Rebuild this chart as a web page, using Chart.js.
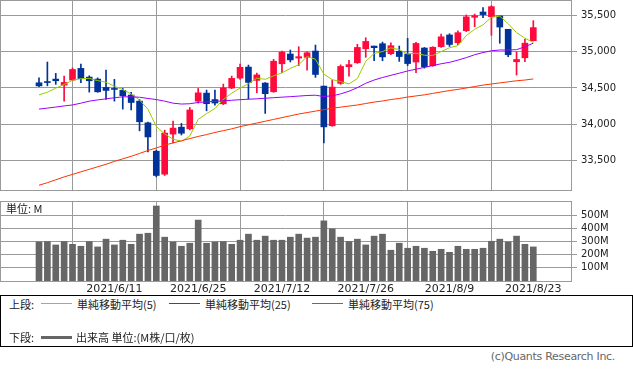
<!DOCTYPE html>
<html>
<head>
<meta charset="utf-8">
<script src="https://cdn.jsdelivr.net/npm/chart.js@4"></script>
<style>
  html, body { margin: 0; padding: 0; background: #fff; }
  #wrap { position: relative; width: 633px; height: 371px; overflow: hidden;
          font-family: "Noto Sans CJK JP", "DejaVu Sans", sans-serif; color: #222; }
  #c1 { position: absolute; left: 0; top: 0; }
  #c2 { position: absolute; left: 0; top: 196px; }
  .unit { position: absolute; left: 6px; top: 202px; font-size: 11px; line-height: 13px; }
  #legend { position: absolute; left: 0; top: 295px; width: 631px; height: 50px; border: 1px solid #000; }
  .lt { position: absolute; font-size: 11px; line-height: 13px; white-space: nowrap; }
  .ln { position: absolute; height: 1px; width: 31px; }
  .copy { position: absolute; right: 18px; top: 350px; font-size: 11px; color: #666;
          font-family: "DejaVu Sans", sans-serif; letter-spacing: -0.3px; }
</style>
</head>
<body>
<div id="wrap">
  <canvas id="c1" width="633" height="196"></canvas>
  <canvas id="c2" width="633" height="99"></canvas>
  <div class="unit">単位: M</div>
  <div id="legend">
    <div class="lt" style="left:8px;top:2px">上段:</div>
    <div class="ln" style="left:40px;top:7px;background:#99cc00"></div>
    <div class="lt" style="left:76px;top:2px">単純移動平均(5)</div>
    <div class="ln" style="left:168px;top:7px;background:#9900ff"></div>
    <div class="lt" style="left:204px;top:2px">単純移動平均(25)</div>
    <div class="ln" style="left:311px;top:7px;background:#ff3300"></div>
    <div class="lt" style="left:347px;top:2px">単純移動平均(75)</div>
    <div class="lt" style="left:8px;top:35px">下段:</div>
    <div class="ln" style="left:40px;top:40px;height:3px;background:#666"></div>
    <div class="lt" style="left:75px;top:35px">出来高 単位:(M株/口/枚)</div>
  </div>
  <div class="copy">(c)Quants Research Inc.</div>
</div>
<script>
// daily bars 2021/5/28 .. 2021/8/23
const dates = ['5/28','6/1','6/2','6/3','6/4','6/7','6/8','6/9','6/10','6/11',
  '6/14','6/15','6/16','6/17','6/18','6/21','6/22','6/23','6/24','6/25',
  '6/28','6/29','6/30','7/1','7/2','7/6','7/7','7/8','7/9','7/12',
  '7/13','7/14','7/15','7/16','7/19','7/20','7/21','7/22','7/23','7/26',
  '7/27','7/28','7/29','7/30','8/2','8/3','8/4','8/5','8/6','8/9',
  '8/10','8/11','8/12','8/13','8/16','8/17','8/18','8/19','8/20','8/23'];
const tickIdx = [9, 19, 29, 39, 49, 59];

const opens = [34572,34584,34623,34540,34610,34771,34651,34623,34508,34494,
  34467,34402,34318,34018,33626,33308,33862,33958,33935,34318,
  34429,34340,34281,34499,34637,34789,34605,34568,34448,34835,
  34970,34914,34924,35011,34526,33977,34564,34794,34849,35043,
  35080,35112,34974,35007,34970,34859,35053,34808,35071,35233,
  35126,35292,35478,35551,35486,35496,35312,34863,34918,35154];
const highs = [34641,34859,34702,34665,34776,34831,34669,34640,34748,34619,
  34494,34439,34340,34030,33640,33917,34042,34010,34230,34494,
  34471,34471,34554,34665,34831,34817,34706,34575,34896,35011,
  35025,35071,35000,35094,34526,34610,34820,34882,35104,35195,
  35080,35135,35125,35080,35187,35130,35060,35070,35247,35250,
  35290,35510,35523,35611,35639,35496,35312,35001,35173,35431];
const lows = [34517,34530,34550,34319,34600,34572,34443,34440,34342,34318,
  34208,34198,33907,33616,33271,33290,33741,33850,33920,34290,
  34184,34263,34270,34490,34620,34346,34434,34148,34440,34711,
  34860,34808,34748,34647,33741,33970,34550,34665,34840,34924,
  34877,34877,34960,34868,34810,34711,34775,34800,35060,35075,
  35100,35280,35348,35472,35228,35118,34932,34679,34863,35150];
const closes = [34529,34575,34600,34577,34756,34630,34600,34447,34466,34480,
  34393,34299,34033,33823,33290,33876,33945,33874,34196,34433,
  34283,34292,34502,34633,34786,34577,34681,34421,34870,34996,
  34889,34933,34987,34687,33962,34512,34798,34823,35061,35144,
  35058,34930,35085,34935,34838,35116,34793,35064,35208,35102,
  35265,35484,35500,35515,35625,35343,34960,34894,35120,35335];

const ma5 = [34405,34441,34498,34549,34607,34628,34633,34602,34580,34525,
  34477,34417,34334,34206,33968,33864,33793,33762,33836,34065,
  34146,34216,34341,34429,34499,34558,34636,34620,34667,34709,
  34771,34822,34935,34898,34692,34616,34589,34556,34631,34868,
  34977,35003,35056,35030,34969,34981,34953,34949,35004,35057,
  35086,35225,35312,35373,35478,35493,35389,35267,35188,35130];
const ma25 = [34208,34222,34236,34252,34265,34290,34318,34335,34350,34365,
  34378,34378,34372,34355,34340,34318,34290,34278,34282,34300,
  34308,34315,34322,34330,34338,34345,34350,34358,34366,34373,
  34380,34388,34396,34400,34382,34392,34418,34455,34505,34565,
  34610,34645,34675,34705,34735,34760,34785,34810,34835,34855,
  34885,34920,34960,34990,35015,35025,35025,35030,35070,35120];
const ma75 = [33155,33190,33230,33270,33305,33340,33375,33410,33445,33485,
  33520,33555,33595,33635,33670,33710,33740,33770,33800,33830,
  33855,33885,33910,33935,33965,33990,34015,34040,34065,34090,
  34115,34140,34160,34180,34200,34220,34235,34250,34265,34285,
  34305,34320,34340,34355,34375,34390,34405,34425,34445,34465,
  34480,34500,34520,34540,34555,34570,34585,34600,34610,34625];

// volume, millions
const volumes = [297,300,274,300,279,264,300,259,318,274,
  310,279,356,363,570,333,297,264,287,463,
  287,297,300,279,310,356,310,341,310,310,
  333,356,326,333,457,396,333,300,318,274,
  341,356,234,287,249,264,249,226,241,218,
  264,241,241,249,302,318,297,341,279,259];

const priceTicks = [33500, 34000, 34500, 35000, 35500];
const volTicks = [100, 200, 300, 400, 500];

const UP = '#ff0a3c', DOWN = '#003399', GRID = '#9a9a9a';
const candleColors = closes.map((c, i) => c >= opens[i] ? UP : DOWN);
const xMin = -4.655, xMax = 63.5;

// outer frame round the plot area
const frame = {
  id: 'frame',
  afterDraw(chart) {
    const {ctx, chartArea: a} = chart;
    ctx.save();
    ctx.strokeStyle = GRID;
    ctx.lineWidth = 1;
    ctx.strokeRect(a.left + 0.5, a.top + 0.5, a.right - a.left, a.bottom - a.top);
    ctx.restore();
  }
};

function xScale(showLabels, h) {
  return {
    type: 'linear', min: xMin, max: xMax, offset: false,
    afterBuildTicks: s => { s.ticks = tickIdx.map(v => ({value: v})); },
    afterFit: s => { s.height = h; s.paddingLeft = 0; s.paddingRight = 0; },
    grid: {color: GRID, drawTicks: false},
    border: {display: false},
    ticks: {
      display: showLabels, padding: 2, maxRotation: 0, autoSkip: false,
      color: '#222', font: {family: 'DejaVu Sans', size: 11},
      callback: v => '2021/' + dates[v],
    },
  };
}

function yScale(min, max, ticks, fmt) {
  return {
    position: 'right', min, max,
    afterBuildTicks: s => { s.ticks = ticks.map(v => ({value: v})); },
    // labels sit inside the range, so no extra room above or below
    afterFit: s => { s.width = 62; s.paddingTop = 0; s.paddingBottom = 0; },
    grid: {color: GRID, tickLength: 6},
    border: {display: false},
    ticks: {padding: 4, color: '#222', font: {family: 'DejaVu Sans', size: 10}, callback: fmt},
  };
}

const common = {
  responsive: false, animation: false, devicePixelRatio: 1, events: [],
  plugins: {legend: {display: false}, tooltip: {enabled: false}},
};

const maLine = (data, color) => ({
  type: 'line', data: data.map((v, i) => ({x: i, y: v})),
  borderColor: color, borderWidth: 1, pointRadius: 0, tension: 0, order: 0,
});

new Chart(document.getElementById('c1'), {
  type: 'bar',
  data: {
    datasets: [
      maLine(ma75, '#ff3300'),
      maLine(ma25, '#9900ff'),
      maLine(ma5, '#99cc00'),
      {data: opens.map((o, i) => ({x: i, y: [o, closes[i]]})), backgroundColor: candleColors,
       barThickness: 6, grouped: false, minBarLength: 1, order: 1},
      {data: lows.map((l, i) => ({x: i, y: [l, highs[i]]})), backgroundColor: candleColors,
       barThickness: 1, grouped: false, order: 2},
    ],
  },
  options: Object.assign({}, common, {
    layout: {padding: {left: 0, top: 0, right: 0, bottom: 6}},
    scales: {
      x: xScale(false, 0),
      y: yScale(33089, 35717, priceTicks, v => v.toLocaleString('en-US')),
    },
  }),
  plugins: [frame],
});

new Chart(document.getElementById('c2'), {
  type: 'bar',
  data: {
    datasets: [{
      data: volumes.map((v, i) => ({x: i, y: v})),
      backgroundColor: '#666666', barThickness: 6,
    }],
  },
  options: Object.assign({}, common, {
    layout: {padding: {left: 0, top: 5, right: 0, bottom: 0}},
    scales: {
      x: xScale(true, 14),
      y: yScale(0, 608, volTicks, v => v + 'M'),
    },
  }),
  plugins: [frame],
});
</script>
</body>
</html>
